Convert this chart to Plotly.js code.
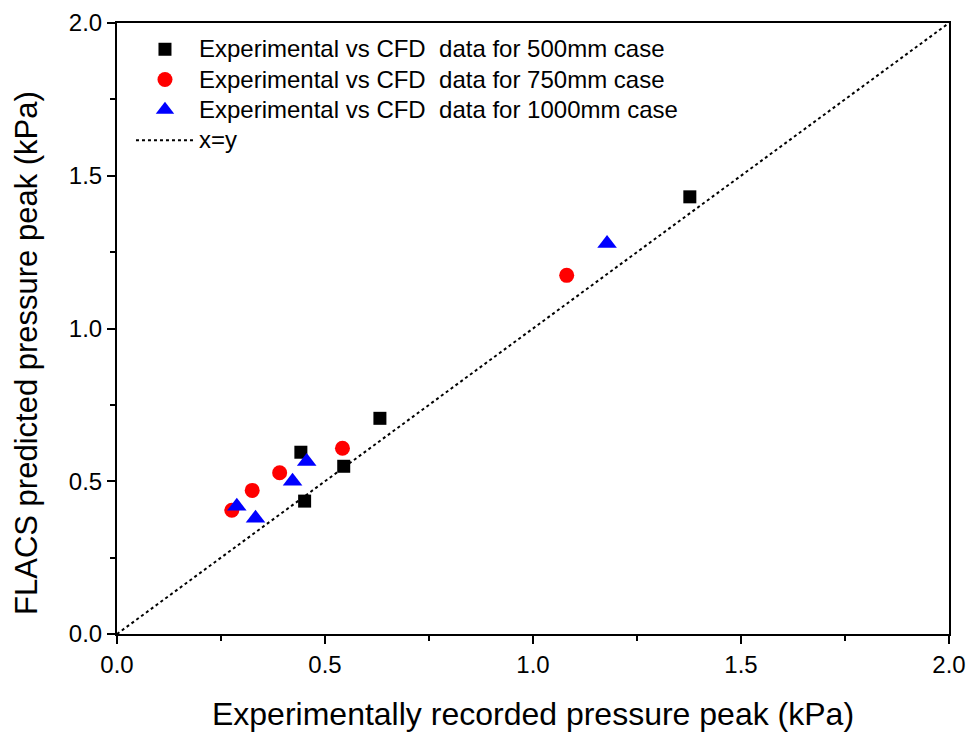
<!DOCTYPE html>
<html>
<head>
<meta charset="utf-8">
<script src="https://cdn.plot.ly/plotly-3.0.1.min.js"></script>
<style>html,body{margin:0;padding:0;background:#fff}#chart{width:969px;height:736px}</style>
</head>
<body>
<div id="chart"></div>
<script>
// Data (kPa)
const exp500 = [1.377, 0.632, 0.442, 0.545, 0.451];
const cfd500 = [1.431, 0.706, 0.595, 0.549, 0.435];
const exp750 = [1.081, 0.542, 0.391, 0.325, 0.276];
const cfd750 = [1.174, 0.608, 0.528, 0.470, 0.405];
const exp1000 = [1.178, 0.456, 0.422, 0.333, 0.288];
const cfd1000 = [1.278, 0.565, 0.500, 0.379, 0.418];
const lineX = [0, 2];
const lineY = [0, 2];
const names = [
  "Experimental vs CFD&nbsp; data for 500mm case",
  "Experimental vs CFD&nbsp; data for 750mm case",
  "Experimental vs CFD&nbsp; data for 1000mm case",
  "x=y"
];
const tickVals = [0, 0.5, 1.0, 1.5, 2.0];
const tickText = ["0.0", "0.5", "1.0", "1.5", "2.0"];
const xTitle = "Experimentally recorded pressure peak (kPa)";
const yTitle = "FLACS predicted pressure peak (kPa)";

const big = s => '<span style="font-size:24px">' + s + '</span>';

const traces = [
  {x: exp500, y: cfd500, name: big(names[0]), mode: "markers", type: "scatter", legendgroup: "a",
   marker: {symbol: "square", size: 13, color: "#000000"}},
  {x: exp750, y: cfd750, name: big(names[1]), mode: "markers", type: "scatter", legendgroup: "b",
   marker: {symbol: "circle", size: 15, color: "#ff0000"}},
  {x: exp1000, y: cfd1000, name: big(names[2]), mode: "markers", type: "scatter", legendgroup: "c",
   marker: {symbol: "triangle-up", size: 17, color: "#0000ff"}},
  {x: lineX, y: lineY, name: big(names[3]), mode: "lines", type: "scatter", legendgroup: "d",
   line: {color: "#000000", width: 2, dash: "dot"}}
];

const axisCommon = {
  range: [0, 2], showgrid: false, zeroline: false,
  showline: true, linecolor: "#000", linewidth: 2, mirror: true,
  ticks: "outside", ticklen: 8, tickwidth: 2, tickcolor: "#000",
  tickvals: tickVals, ticktext: tickText,
  tickfont: {family: "Liberation Sans, Arial, sans-serif", size: 24, color: "#000"},
  minor: {ticks: "outside", ticklen: 5, tickwidth: 2, tickcolor: "#000", dtick: 0.25, showgrid: false}
};

const layout = {
  width: 969, height: 736,
  margin: {l: 117, r: 20, t: 23, b: 102},
  paper_bgcolor: "#fff", plot_bgcolor: "#fff",
  showlegend: true,
  font: {family: "Liberation Sans, Arial, sans-serif", color: "#000"},
  xaxis: Object.assign({}, axisCommon, {
    title: {text: xTitle, font: {size: 32, color: "#000"}, standoff: 26}
  }),
  yaxis: Object.assign({}, axisCommon, {}),
  annotations: [{
    text: yTitle, xref: "paper", yref: "paper", x: 0, y: 0.46,
    xanchor: "center", yanchor: "middle", xshift: -90, textangle: -90,
    showarrow: false, font: {size: 31, color: "#000"}
  }],
  legend: {
    x: 0.0168, y: 0.99, xanchor: "left", yanchor: "top",
    bgcolor: "rgba(0,0,0,0)", borderwidth: 0,
    font: {size: 21, color: "#000"},
    itemwidth: 58,
    traceorder: "grouped", tracegroupgap: 0
  }
};

Plotly.newPlot("chart", traces, layout, {displayModeBar: false, staticPlot: true});
</script>
</body>
</html>
